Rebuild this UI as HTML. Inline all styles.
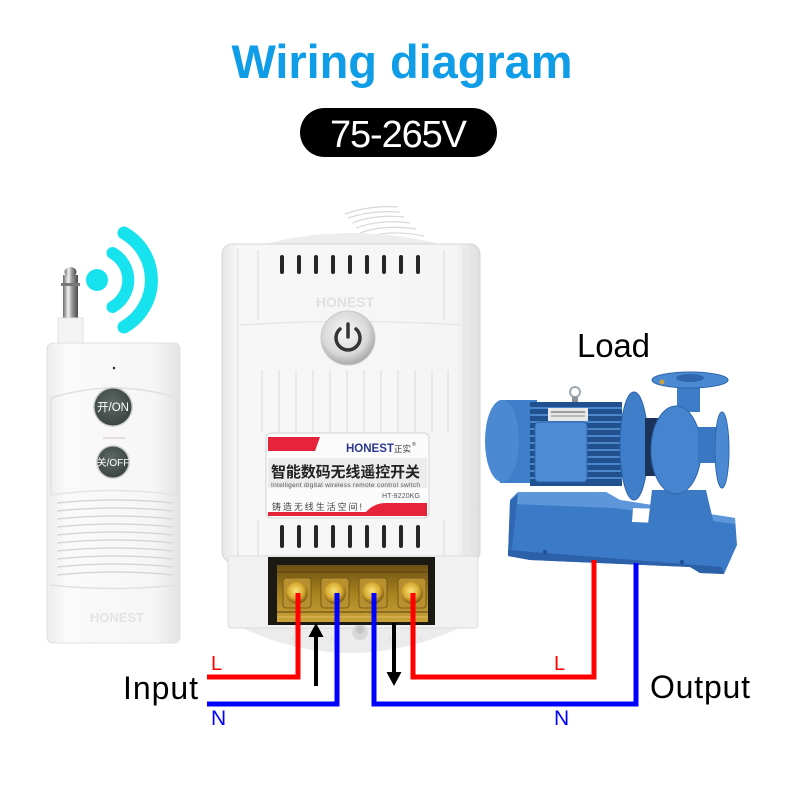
<!DOCTYPE html>
<html><head><meta charset="utf-8"><style>
html,body{margin:0;padding:0;background:#fff;}
svg{display:block;}
text{font-family:"Liberation Sans","Noto Sans CJK SC",sans-serif;}
</style></head><body>
<svg width="800" height="800" viewBox="0 0 800 800" xmlns="http://www.w3.org/2000/svg">
<defs>
<linearGradient id="rem" x1="0" x2="1" y1="0" y2="0">
<stop offset="0" stop-color="#ececec"/><stop offset="0.15" stop-color="#fafafa"/><stop offset="0.8" stop-color="#f6f6f6"/><stop offset="1" stop-color="#e3e3e3"/>
</linearGradient>
<linearGradient id="metal" x1="0" x2="1">
<stop offset="0" stop-color="#6a6a6a"/><stop offset="0.35" stop-color="#f4f4f4"/><stop offset="0.6" stop-color="#9a9a9a"/><stop offset="1" stop-color="#4a4a4a"/>
</linearGradient>
<linearGradient id="dev" x1="0" x2="1">
<stop offset="0" stop-color="#e6e6e6"/><stop offset="0.06" stop-color="#f7f7f7"/><stop offset="0.9" stop-color="#f5f5f5"/><stop offset="1" stop-color="#dedede"/>
</linearGradient>
<radialGradient id="btn" cx="0.45" cy="0.4" r="0.6">
<stop offset="0" stop-color="#f8f8f8"/><stop offset="0.7" stop-color="#d8d8d8"/><stop offset="1" stop-color="#a8a8a8"/>
</radialGradient>
<linearGradient id="brass" x1="0" x2="0" y1="0" y2="1">
<stop offset="0" stop-color="#6b5014"/><stop offset="0.5" stop-color="#a8821e"/><stop offset="1" stop-color="#c9a23a"/>
</linearGradient>
<radialGradient id="screw" cx="0.45" cy="0.4" r="0.6">
<stop offset="0" stop-color="#fbe27a"/><stop offset="0.6" stop-color="#d6aa30"/><stop offset="1" stop-color="#7a5a12"/>
</radialGradient>
<radialGradient id="rbtn" cx="0.45" cy="0.4" r="0.6">
<stop offset="0" stop-color="#5f6a65"/><stop offset="1" stop-color="#3c4541"/>
</radialGradient>
</defs>

<!-- Title -->
<text x="402" y="78" font-size="47" font-weight="bold" fill="#0f9de8" text-anchor="middle" textLength="341">Wiring diagram</text>
<rect x="300" y="108" width="197" height="49" rx="24.5" fill="#000"/>
<text x="398.5" y="147" font-size="38" fill="#fff" text-anchor="middle" textLength="137">75-265V</text>

<!-- Wifi signal -->
<circle cx="97" cy="280" r="11" fill="#17e3ef"/>
<path d="M112.5 253 A31 31 0 0 1 112.5 307" fill="none" stroke="#17e3ef" stroke-width="12" stroke-linecap="round"/>
<path d="M124 233 A54 54 0 0 1 124 327" fill="none" stroke="#17e3ef" stroke-width="13" stroke-linecap="round"/>

<!-- Remote -->
<rect x="63" y="275" width="15" height="44" fill="url(#metal)"/>
<rect x="61" y="283" width="19" height="3" fill="#777"/>
<ellipse cx="70.5" cy="272" rx="6" ry="5" fill="url(#metal)"/>
<rect x="58" y="318" width="25" height="26" fill="#f3f3f3" stroke="#e2e2e2"/>
<rect x="47" y="343" width="133" height="300" rx="6" fill="url(#rem)" stroke="#e0e0e0"/>
<circle cx="114" cy="368" r="1.3" fill="#333"/>
<path d="M51 495 V398 Q114 378 177 398 V495" fill="none" stroke="#e0e0e0" stroke-width="1.5"/>
<path d="M51 495 Q114 486 177 495" fill="none" stroke="#e4e4e4" stroke-width="1.5"/>
<circle cx="113" cy="407" r="20" fill="#cfd3d1"/>
<circle cx="113" cy="407" r="18.5" fill="url(#rbtn)"/>
<text x="113" y="411" font-size="11.5" fill="#fff" text-anchor="middle">开/ON</text>
<rect x="103" y="437" width="22" height="2" fill="#e6dede"/>
<circle cx="113" cy="462" r="17" fill="#cfd3d1"/>
<circle cx="113" cy="462" r="15.5" fill="url(#rbtn)"/>
<text x="113" y="466" font-size="10" fill="#fff" text-anchor="middle">关/OFF</text>
<g fill="none" stroke="#d6d6d6" stroke-width="1.6">
<path d="M57 503 Q115 497 173 503"/><path d="M57 511 Q115 505 173 511"/><path d="M57 519 Q115 513 173 519"/>
<path d="M57 527 Q115 521 173 527"/><path d="M57 535 Q115 529 173 535"/><path d="M57 543 Q115 537 173 543"/>
<path d="M57 551 Q115 545 173 551"/><path d="M57 559 Q115 553 173 559"/><path d="M57 567 Q115 561 173 567"/>
<path d="M57 575 Q115 569 173 575"/>
</g>
<path d="M50 585 Q114 592 177 585" fill="none" stroke="#e0e0e0" stroke-width="1.5"/>
<text x="117" y="622" font-size="13" font-weight="bold" fill="#e4e4e4" text-anchor="middle" font-family="Liberation Serif, serif">HONEST</text>

<!-- Device -->
<g stroke="#d8d8d8" stroke-width="1.2" fill="none">
<path d="M345 214 Q370 205 398 207"/><path d="M348 218 Q372 210 400 212"/><path d="M352 223 Q376 214 404 217"/>
<path d="M356 228 Q380 219 410 223"/><path d="M360 233 Q385 224 416 229"/><path d="M364 238 Q390 229 424 236"/>
</g>
<path d="M258 246 Q350 220 448 246 Z" fill="#ededed"/>
<rect x="222" y="244" width="258" height="318" rx="10" fill="url(#dev)" stroke="#d6d6d6"/>
<g stroke="#e2e2e2" stroke-width="1.3">
<line x1="238" y1="248" x2="238" y2="556"/><line x1="464" y1="248" x2="464" y2="556"/>
<line x1="258" y1="250" x2="258" y2="320"/><line x1="444" y1="250" x2="444" y2="320"/>
<line x1="262" y1="370" x2="262" y2="432"/><line x1="279" y1="370" x2="279" y2="432"/><line x1="296" y1="370" x2="296" y2="432"/>
<line x1="313" y1="370" x2="313" y2="432"/><line x1="330" y1="370" x2="330" y2="432"/><line x1="347" y1="370" x2="347" y2="432"/>
<line x1="364" y1="370" x2="364" y2="432"/><line x1="381" y1="370" x2="381" y2="432"/><line x1="398" y1="370" x2="398" y2="432"/>
<line x1="415" y1="370" x2="415" y2="432"/><line x1="432" y1="370" x2="432" y2="432"/><line x1="448" y1="370" x2="448" y2="432"/>
<line x1="258" y1="520" x2="258" y2="556"/><line x1="444" y1="520" x2="444" y2="556"/>
</g>
<path d="M240 325 Q350 318 462 325" fill="none" stroke="#e4e4e4" stroke-width="1.3"/>
<g fill="#262626">
<rect x="280" y="255" width="4" height="19" rx="2"/><rect x="297" y="255" width="4" height="19" rx="2"/><rect x="314" y="255" width="4" height="19" rx="2"/>
<rect x="331" y="255" width="4" height="19" rx="2"/><rect x="348" y="255" width="4" height="19" rx="2"/><rect x="365" y="255" width="4" height="19" rx="2"/>
<rect x="382" y="255" width="4" height="19" rx="2"/><rect x="399" y="255" width="4" height="19" rx="2"/><rect x="416" y="255" width="4" height="19" rx="2"/>
<rect x="280" y="525" width="4" height="23" rx="2"/><rect x="297" y="525" width="4" height="23" rx="2"/><rect x="314" y="525" width="4" height="23" rx="2"/>
<rect x="331" y="525" width="4" height="23" rx="2"/><rect x="348" y="525" width="4" height="23" rx="2"/><rect x="365" y="525" width="4" height="23" rx="2"/>
<rect x="382" y="525" width="4" height="23" rx="2"/><rect x="399" y="525" width="4" height="23" rx="2"/><rect x="416" y="525" width="4" height="23" rx="2"/>
</g>
<text x="345" y="307" font-size="14" font-weight="bold" fill="#e0e0e0" text-anchor="middle" font-family="Liberation Serif, serif">HONEST</text>
<circle cx="348" cy="338" r="27" fill="url(#btn)" stroke="#cacaca"/>
<path d="M340 329 A12 12 0 1 0 356 329" fill="none" stroke="#353535" stroke-width="3.5" stroke-linecap="round"/>
<line x1="348" y1="324" x2="348" y2="337" stroke="#353535" stroke-width="3.5" stroke-linecap="round"/>

<!-- Label -->
<rect x="266" y="433" width="163" height="85" rx="5" fill="#fbfbfb" stroke="#d4d4d4"/>
<path d="M268 437 H320 L315 451 H268 Z" fill="#e5233a"/>
<rect x="268" y="458" width="159" height="30" fill="#ececec"/>
<path d="M268 512 H366 Q374 503 386 503 H427 V516 H268 Z" fill="#e5233a"/>
<text x="346" y="452" font-size="11.5" font-weight="bold" fill="#2b3990">HONEST</text>
<text x="394" y="452" font-size="8.5" fill="#333">正实</text>
<text x="412" y="446" font-size="5" fill="#333">®</text>
<text x="271" y="477" font-size="15" font-weight="bold" fill="#222" textLength="149" font-family="Liberation Sans, Noto Sans CJK SC, sans-serif">智能数码无线遥控开关</text>
<text x="271" y="487" font-size="6.5" fill="#555" textLength="149">Intelligent digital wireless remote control switch</text>
<text x="382" y="498" font-size="7" fill="#555" textLength="38">HT-9220KG</text>
<text x="272" y="510" font-size="9" fill="#444" textLength="90" font-family="Liberation Serif, Noto Serif CJK SC, serif">铸造无线生活空间!</text>

<!-- lower base -->
<path d="M238 626 Q350 680 464 626 Z" fill="#ececec"/>
<rect x="228" y="556" width="250" height="72" rx="3" fill="#f1f1f1" stroke="#dcdcdc"/>
<circle cx="360" cy="632" r="8" fill="#d8d8d8"/>
<circle cx="360" cy="630" r="4" fill="#c4c4c4"/>
<text x="292" y="642" font-size="8" fill="#dadada">L</text>
<text x="330" y="642" font-size="8" fill="#dadada">N</text>
<text x="388" y="642" font-size="8" fill="#dadada">N</text>
<text x="420" y="642" font-size="8" fill="#dadada">L</text>
<rect x="268" y="557" width="167" height="68" fill="#1c1812"/>
<rect x="277" y="565" width="151" height="57" fill="url(#brass)"/>
<line x1="277" y1="572" x2="428" y2="572" stroke="#5a4210" stroke-width="1"/>
<line x1="277" y1="612" x2="428" y2="612" stroke="#5a4210" stroke-width="1"/>
<line x1="277" y1="617" x2="428" y2="617" stroke="#e0c060" stroke-width="1"/>
<g fill="#b89030" stroke="#6a5010" stroke-width="0.8">
<rect x="283" y="578" width="28" height="30" rx="3"/><rect x="321" y="578" width="28" height="30" rx="3"/>
<rect x="359" y="578" width="28" height="30" rx="3"/><rect x="398" y="578" width="28" height="30" rx="3"/>
</g>
<g fill="url(#screw)">
<circle cx="297" cy="593" r="11"/><circle cx="335" cy="593" r="11"/><circle cx="373" cy="593" r="11"/><circle cx="412" cy="593" r="11"/>
</g>

<!-- Pump base -->
<path d="M510 500 L518 492 L606 492 L620 500 L735 518 L737 545 L724 574 L700 573 L690 567 L530 560 L508 556 Z" fill="#3b7ac6"/>
<path d="M518 492 L606 492 L620 500 L735 518 L735 524 L614 508 L512 504 Z" fill="#5d97da"/>
<path d="M510 502 L518 494 L512 548 L508 556 Z" fill="#2f67b2"/>
<path d="M508 550 L722 567 L724 574 L700 573 L690 567 L530 560 L508 556 Z" fill="#2c61aa"/>
<path d="M633 508 L662 509 L660 523 L632 522 Z" fill="#fff"/>
<path d="M652 490 L706 490 L714 524 L648 524 Z" fill="#3b79c5"/>
<circle cx="545" cy="552" r="2" fill="#1f4d8f"/>
<circle cx="682" cy="562" r="2" fill="#1f4d8f"/>
<!-- Motor -->
<rect x="500" y="400" width="37" height="83" fill="#3f7ec8"/>
<ellipse cx="502" cy="441" rx="17" ry="41" fill="#4b8ad2"/>
<rect x="530" y="402" width="92" height="84" fill="#21508f"/>
<g stroke="#4c87cc" stroke-width="2">
<line x1="530" y1="408" x2="622" y2="408"/><line x1="530" y1="415" x2="622" y2="415"/><line x1="530" y1="422" x2="622" y2="422"/>
<line x1="530" y1="429" x2="622" y2="429"/><line x1="530" y1="436" x2="622" y2="436"/><line x1="530" y1="443" x2="622" y2="443"/>
<line x1="530" y1="450" x2="622" y2="450"/><line x1="530" y1="457" x2="622" y2="457"/><line x1="530" y1="464" x2="622" y2="464"/>
<line x1="530" y1="471" x2="622" y2="471"/><line x1="530" y1="478" x2="622" y2="478"/>
</g>
<rect x="535" y="422" width="52" height="60" rx="4" fill="#4d8cd4" stroke="#2f66ad"/>
<rect x="548" y="408" width="40" height="13" fill="#e8e8e8"/>
<line x1="551" y1="412" x2="585" y2="412" stroke="#555" stroke-width="1"/>
<line x1="551" y1="416" x2="585" y2="416" stroke="#888" stroke-width="1"/>
<circle cx="575" cy="392" r="5" fill="none" stroke="#9fa6ad" stroke-width="2"/>
<rect x="572" y="397" width="6" height="5" fill="#8a929a"/>
<ellipse cx="634" cy="446" rx="14" ry="54" fill="#3f7ec8" stroke="#2d62aa"/>
<rect x="645" y="418" width="15" height="58" fill="#1b3358"/>
<rect x="677" y="380" width="23" height="32" fill="#3d7cc6"/>
<ellipse cx="690" cy="380" rx="38" ry="8" fill="#4b8ad3" stroke="#2f66ad"/>
<ellipse cx="690" cy="378" rx="14" ry="4" fill="#2f66ad"/>
<circle cx="662" cy="382" r="2.5" fill="#c9a040"/>
<ellipse cx="676" cy="450" rx="25" ry="44" fill="#4585cf" stroke="#2f66ad"/>
<rect x="698" y="427" width="20" height="36" fill="#3a77c2"/>
<ellipse cx="722" cy="450" rx="7" ry="38" fill="#4b8ad3" stroke="#2f66ad"/>

<!-- Wires -->
<g fill="none" stroke-width="5">
<path d="M298 593 V677 H207" stroke="#ff0000"/>
<path d="M337 593 V704 H207" stroke="#0000ff"/>
<path d="M374 593 V704 H636 V563" stroke="#0000ff"/>
<path d="M413 593 V677 H594 V560" stroke="#ff0000"/>
</g>
<line x1="316" y1="686" x2="316" y2="634" stroke="#000" stroke-width="4"/>
<polygon points="316,623 308.5,637 323.5,637" fill="#000"/>
<line x1="394" y1="623" x2="394" y2="675" stroke="#000" stroke-width="4"/>
<polygon points="394,686 386.5,672 401.5,672" fill="#000"/>

<!-- Labels -->
<text x="211" y="670" font-size="20" fill="#ff0000">L</text>
<text x="211" y="725" font-size="21" fill="#0000ff">N</text>
<text x="554" y="670" font-size="20" fill="#ff0000">L</text>
<text x="554" y="725" font-size="21" fill="#0000ff">N</text>
<text x="123" y="699" font-size="32" fill="#000" textLength="75">Input</text>
<text x="650" y="698" font-size="32" fill="#000" textLength="100">Output</text>
<text x="577" y="357" font-size="33" fill="#000" textLength="73">Load</text>
</svg>
</body></html>
